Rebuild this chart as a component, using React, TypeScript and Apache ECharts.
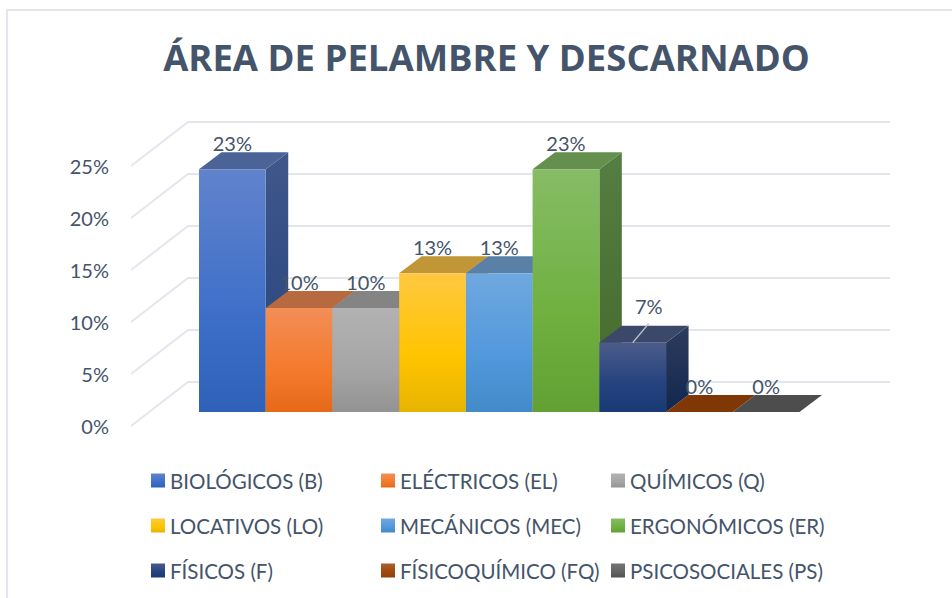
import React, { useEffect, useRef } from "react";
import * as echarts from "echarts";

const TITLE = "ÁREA DE PELAMBRE Y DESCARNADO";
const RISKS = [
  "BIOLÓGICOS (B)", "ELÉCTRICOS (EL)", "QUÍMICOS (Q)",
  "LOCATIVOS (LO)", "MECÁNICOS (MEC)", "ERGONÓMICOS (ER)",
  "FÍSICOS (F)", "FÍSICOQUÍMICO (FQ)", "PSICOSOCIALES (PS)",
];
const VALUES = [23.33, 10, 10, 13.33, 13.33, 23.33, 6.67, 0, 0];
const TICKS = [0, 5, 10, 15, 20, 25];
const LEGEND_COLUMNS = [
  ["BIOLÓGICOS (B)", "LOCATIVOS (LO)", "FÍSICOS (F)"],
  ["ELÉCTRICOS (EL)", "MECÁNICOS (MEC)", "FÍSICOQUÍMICO (FQ)"],
  ["QUÍMICOS (Q)", "ERGONÓMICOS (ER)", "PSICOSOCIALES (PS)"],
];
const FRONT = [
  ["#6183cc", "#3e6fc8", "#2f61b9"],
  ["#f28e58", "#f47a2c", "#e66918"],
  ["#b2b2b2", "#a5a5a5", "#939393"],
  ["#ffc840", "#ffc400", "#e6b400"],
  ["#70a8df", "#5198dc", "#438ac9"],
  ["#86bc66", "#6fb03f", "#62a033"],
  ["#4c5c8a", "#24427f", "#193a75"],
  ["#a86030", "#9e480e", "#8f400c"],
  ["#747474", "#636363", "#505050"],
];
const TOP = ["#4b6397", "#b76a40", "#848484", "#c09636", "#5a80a8", "#658f4c", "#3c4869", "#7f3705", "#4d4d4d"];
const SIDE = [
  ["#40578a", "#24447e"], ["#a85a30", "#8a4510"], ["#777777", "#5c5c5c"],
  ["#a98020", "#8a6a00"], ["#4a7098", "#2f5f90"], ["#557e42", "#44692a"],
  ["#2d3c5e", "#12274f"], ["#6a3005", "#6a3005"], ["#404040", "#404040"],
];

const FONT = "Lato";
const TEXT = "#44546A";
const GRID_LINE = "#e3e6ed";
const DEPTH_X = 22.5;
const DEPTH_Y = 17;
const LEADER_RISK = "FÍSICOS (F)";

const vGrad = (c: string[]) =>
  new echarts.graphic.LinearGradient(0, 0, 0, 1,
    c.length === 3
      ? [{ offset: 0, color: c[0] }, { offset: 0.6, color: c[1] }, { offset: 1, color: c[2] }]
      : [{ offset: 0, color: c[0] }, { offset: 1, color: c[1] }]);

export default function App() {
  const ref = useRef<HTMLDivElement>(null);
  useEffect(() => {
    const chart = echarts.init(ref.current!, undefined, { renderer: "svg" });

    const barSeries = RISKS.map((name, i) => ({
      type: "custom",
      name,
      xAxisIndex: 1,
      yAxisIndex: 1,
      itemStyle: { color: vGrad(FRONT[i]) },
      data: [[name, VALUES[i]]],
      encode: { x: 0, y: 1 },
      renderItem: (_p: any, api: any) => {
        const v = api.value(1);
        const size = api.size([1, 0]);
        const w = size[0];
        const base = api.coord([name, 0]);
        const top = api.coord([name, v]);
        const xL = base[0] - w / 2;
        const xR = base[0] + w / 2;
        const yB = base[1];
        const yT = top[1];
        const children: any[] = [];
        if (v > 0) {
          children.push({
            type: "polygon",
            shape: { points: [[xR, yT], [xR + DEPTH_X, yT - DEPTH_Y], [xR + DEPTH_X, yB - DEPTH_Y], [xR, yB]] },
            style: { fill: vGrad(SIDE[i]) },
          });
        }
        children.push({
          type: "polygon",
          shape: { points: [[xL, yT], [xL + DEPTH_X, yT - DEPTH_Y], [xR + DEPTH_X, yT - DEPTH_Y], [xR, yT]] },
          style: { fill: TOP[i] },
        });
        if (v > 0) {
          children.push({
            type: "rect",
            shape: { x: xL, y: yT, width: w, height: yB - yT },
            style: { fill: vGrad(FRONT[i]) },
          });
        }
        const leader = name === LEADER_RISK;
        if (leader) {
          children.push({
            type: "line",
            z2: 90,
            shape: { x1: base[0], y1: yT, x2: base[0] + 16, y2: yT - 19 },
            style: { stroke: "#b9c1cd", lineWidth: 1.5 },
          });
        }
        children.push({
          type: "text",
          z2: 100,
          x: base[0] + (leader ? 16 : 0),
          y: yT - (leader ? 37 : 26),
          style: {
            text: Math.round(v) + "%",
            fill: TEXT,
            font: `20px ${FONT}`,
            align: "center",
            verticalAlign: "middle",
          },
        });
        return { type: "group", children };
      },
    }));

    chart.setOption({
      animation: false,
      backgroundColor: "#ffffff",
      title: {
        text: TITLE,
        left: 481.5,
        top: 33,
        textAlign: "center",
        textStyle: { fontFamily: "Open Sans", fontWeight: "bold", fontSize: 36.5, color: TEXT },
      },
      graphic: [{
        type: "polyline",
        shape: { points: [[7, 598], [7, 10], [952, 10]] },
        style: { stroke: GRID_LINE, lineWidth: 2, fill: "none" },
      }],
      legend: LEGEND_COLUMNS.map((data, c) => ({
        data,
        orient: "vertical",
        left: [151, 381, 611][c],
        top: 470,
        padding: 0,
        itemWidth: 14,
        itemHeight: 14,
        itemGap: 24,
        height: 120,
        selectedMode: false,
        icon: "rect",
        textStyle: { fontFamily: FONT, fontSize: 20.5, color: TEXT },
      })),
      grid: [
        { left: 131, top: 166, width: 759, height: 260 },
        { left: 199, top: 152, width: 600.5, height: 260 },
      ],
      xAxis: [
        { type: "value", gridIndex: 0, min: 0, max: 1, show: false },
        { type: "category", gridIndex: 1, data: RISKS, show: false },
      ],
      yAxis: [
        {
          type: "value", gridIndex: 0, min: 0, max: 25, interval: 5,
          axisLine: { show: false }, axisTick: { show: false }, splitLine: { show: false },
          axisLabel: { formatter: "{value}%", fontFamily: FONT, fontSize: 20, color: TEXT, margin: 22 },
        },
        { type: "value", gridIndex: 1, min: 0, max: 25, interval: 5, show: false },
      ],
      series: [
        {
          type: "custom",
          xAxisIndex: 0,
          yAxisIndex: 0,
          silent: true,
          z: 1,
          data: TICKS.map((t) => [0, t]),
          encode: { x: 0, y: 1 },
          renderItem: (_p: any, api: any) => {
            const p = api.coord([0, api.value(1)]);
            const end = api.coord([1, 0])[0];
            return {
              type: "polyline",
              shape: { points: [[p[0], p[1]], [p[0] + 57, p[1] - 44], [end, p[1] - 44]] },
              style: { stroke: GRID_LINE, lineWidth: 2, fill: "none" },
            };
          },
        },
        ...barSeries,
      ],
    });
    return () => chart.dispose();
  }, []);
  return <div ref={ref} style={{ position: "absolute", left: 0, top: 0, width: 952, height: 598 }} />;
}
